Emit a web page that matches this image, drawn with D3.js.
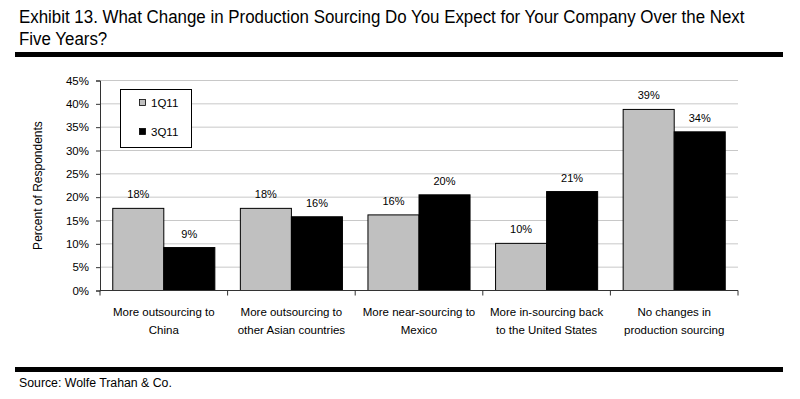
<!DOCTYPE html>
<html>
<head>
<meta charset="utf-8">
<script src="https://cdn.jsdelivr.net/npm/d3@7"></script>
<style>
  body { margin: 0; background: #fff; }
  svg { display: block; }
</style>
</head>
<body>
<div id="chart"></div>
<script>
// Data
var categories = [
  ["More outsourcing to", "China"],
  ["More outsourcing to", "other Asian countries"],
  ["More near-sourcing to", "Mexico"],
  ["More in-sourcing back", "to the United States"],
  ["No changes in", "production sourcing"]
];
var seriesNames = ["1Q11", "3Q11"];
var values1Q11 = [17.6, 17.6, 16.2, 10.1, 38.8];
var values3Q11 = [9.2, 15.8, 20.5, 21.2, 34.0];
var labels1Q11 = ["18%", "18%", "16%", "10%", "39%"];
var labels3Q11 = ["9%", "16%", "20%", "21%", "34%"];
var yTicks = [0, 5, 10, 15, 20, 25, 30, 35, 40, 45];

var seriesColors = ["#c0c0c0", "#000000"];

var width = 800;
var height = 399;

var svg = d3.select('#chart')
  .append('svg')
  .attr('width', width)
  .attr('height', height)
  .style('font-family', 'Arial, "Liberation Sans", sans-serif');

// Title (narrow face, squeezed horizontally to fit)
var titleG = svg.append('g');
var title = titleG.append('text')
  .style('font-family', 'Arial, "Liberation Sans", sans-serif')
  .style('font-size', '18.5px')
  .attr('fill', '#000');
var t1 = title.append('tspan').attr('x', 0).attr('y', 23.5)
  .text('Exhibit 13. What Change in Production Sourcing Do You Expect for Your Company Over the Next');
title.append('tspan').attr('x', 0).attr('y', 45)
  .text('Five Years?');
var sx = 726 / t1.node().getComputedTextLength();
titleG.attr('transform', 'translate(19,0) scale(' + sx + ',1)');

// Thick rules
svg.append('rect').attr('x', 15).attr('y', 52).attr('width', 768).attr('height', 5).attr('fill', '#000');
svg.append('rect').attr('x', 15).attr('y', 367).attr('width', 768).attr('height', 5).attr('fill', '#000');

svg.append('text')
  .attr('x', 19)
  .attr('y', 386.5)
  .style('font-size', '12.3px')
  .text('Source: Wolfe Trahan & Co.');

// Scales
var plotLeft = 100, plotRight = 738, plotTop = 80.5, plotBottom = 290.5;

var x = d3.scaleBand()
  .domain(d3.range(categories.length))
  .range([plotLeft, plotRight])
  .paddingInner(0.2)
  .paddingOuter(0.1);

var xs = d3.scaleBand()
  .domain(seriesNames)
  .range([0, x.bandwidth()]);

var y = d3.scaleLinear()
  .domain([0, 45])
  .range([plotBottom, plotTop]);

// Gridlines
svg.append('g')
  .selectAll('line')
  .data(yTicks.filter(function(d) { return d > 0; }))
  .enter()
  .append('line')
  .attr('x1', plotLeft)
  .attr('x2', plotRight)
  .attr('y1', function(d) { return y(d); })
  .attr('y2', function(d) { return y(d); })
  .attr('stroke', '#c8c8c8')
  .attr('stroke-width', 1);

// Y axis
var yAxis = svg.append('g')
  .attr('transform', 'translate(' + plotLeft + ',0)')
  .call(d3.axisLeft(y).tickValues(yTicks).tickSize(4).tickPadding(7)
    .tickFormat(function(d) { return d + '%'; }));
yAxis.select('.domain').attr('stroke', '#333');
yAxis.selectAll('.tick line').attr('stroke', '#333');
yAxis.selectAll('text')
  .style('font-family', 'Arial, "Liberation Sans", sans-serif')
  .style('font-size', '11.5px')
  .attr('fill', '#000');

svg.append('text')
  .attr('transform', 'translate(42,' + ((plotTop + plotBottom) / 2) + ') rotate(-90)')
  .attr('text-anchor', 'middle')
  .style('font-size', '12px')
  .text('Percent of Respondents');

// Bars
var rows = categories.map(function(c, i) {
  return [
    { cat: i, s: seriesNames[0], v: values1Q11[i], label: labels1Q11[i], color: seriesColors[0] },
    { cat: i, s: seriesNames[1], v: values3Q11[i], label: labels3Q11[i], color: seriesColors[1] }
  ];
});

var groups = svg.selectAll('.grp')
  .data(rows)
  .enter()
  .append('g')
  .attr('class', 'grp')
  .attr('transform', function(d, i) { return 'translate(' + x(i) + ',0)'; });

groups.selectAll('rect')
  .data(function(d) { return d; })
  .enter()
  .append('rect')
  .attr('x', function(d) { return xs(d.s); })
  .attr('y', function(d) { return y(d.v); })
  .attr('width', xs.bandwidth())
  .attr('height', function(d) { return y(0) - y(d.v); })
  .attr('fill', function(d) { return d.color; })
  .attr('stroke', '#000')
  .attr('stroke-width', 1);

groups.selectAll('.val')
  .data(function(d) { return d; })
  .enter()
  .append('text')
  .attr('class', 'val')
  .attr('x', function(d) { return xs(d.s) + xs.bandwidth() / 2; })
  .attr('y', function(d) { return y(d.v) - 10; })
  .attr('text-anchor', 'middle')
  .style('font-size', '11px')
  .text(function(d) { return d.label; });

// X axis
svg.append('line')
  .attr('x1', plotLeft).attr('x2', plotRight)
  .attr('y1', plotBottom).attr('y2', plotBottom)
  .attr('stroke', '#333');

var boundaries = d3.range(categories.length + 1).map(function(i) {
  return plotLeft + i * x.step();
});
svg.selectAll('.xtick')
  .data(boundaries)
  .enter()
  .append('line')
  .attr('class', 'xtick')
  .attr('x1', function(d) { return d; })
  .attr('x2', function(d) { return d; })
  .attr('y1', plotBottom)
  .attr('y2', plotBottom + 5)
  .attr('stroke', '#333');

var catLabels = svg.selectAll('.cat')
  .data(categories)
  .enter()
  .append('text')
  .attr('class', 'cat')
  .attr('text-anchor', 'middle')
  .style('font-size', '11.5px');
catLabels.each(function(d, i) {
  var t = d3.select(this);
  var cx = x(i) + x.bandwidth() / 2;
  d.forEach(function(line, j) {
    t.append('tspan').attr('x', cx).attr('y', 315.5 + j * 18).text(line);
  });
});

// Legend
var legend = svg.append('g');
legend.append('rect')
  .attr('x', 120.5).attr('y', 89.5)
  .attr('width', 71).attr('height', 58)
  .attr('fill', '#fff')
  .attr('stroke', '#000');
seriesNames.forEach(function(s, i) {
  var cy = 102.5 + i * 29;
  legend.append('rect')
    .attr('x', 139.5).attr('y', cy - 3)
    .attr('width', 6).attr('height', 6)
    .attr('fill', seriesColors[i])
    .attr('stroke', '#000')
    .attr('stroke-width', 0.8);
  legend.append('text')
    .attr('x', 151)
    .attr('y', cy + 4)
    .style('font-size', '11.5px')
    .text(s);
});
</script>
</body>
</html>
